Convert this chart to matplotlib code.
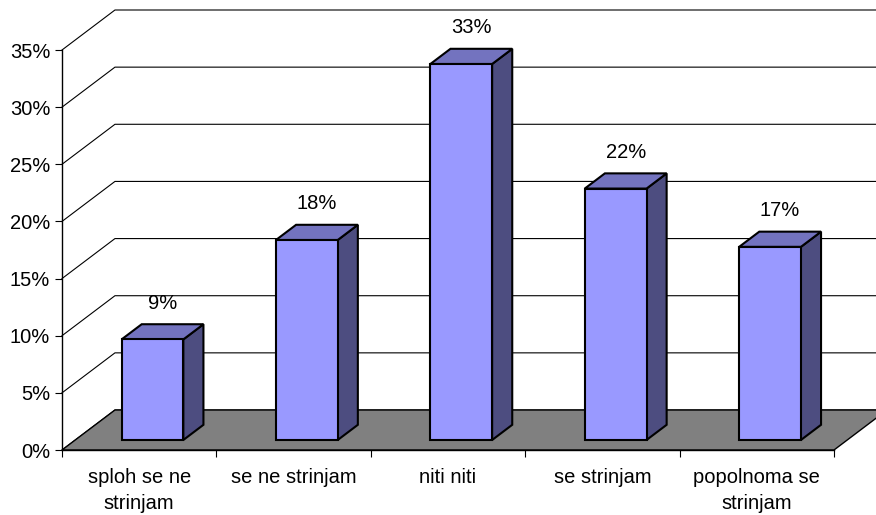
import matplotlib.pyplot as plt
from matplotlib.patches import Polygon
from matplotlib.ticker import FuncFormatter

plt.rcParams['font.family'] = ['Liberation Sans', 'DejaVu Sans']

# ===== data =====
categories = ['sploh se ne\nstrinjam', 'se ne strinjam', 'niti niti',
              'se strinjam', 'popolnoma se\nstrinjam']
values = [8.8, 17.5, 32.9, 22.0, 16.9]
value_labels = ['9%', '18%', '33%', '22%', '17%']
y_ticks = [0, 5, 10, 15, 20, 25, 30, 35]

# ===== 3D look (depth of the floor/walls, bar placement in depth) =====
DX = 0.343    # full depth, in category units
DY = 3.5      # full depth, in %
BAR_W = 0.40
BAR_Z0 = 0.25  # bar front at this fraction of depth
BAR_D = 0.38   # bar depth as fraction of full depth

C_FRONT = '#9999FF'
C_TOP = '#7373BF'
C_SIDE = '#4D4D80'
C_FLOOR = '#808080'
FS = 14.5

fig = plt.figure(figsize=(8.76, 5.15), dpi=100)
ax = fig.add_axes([62 / 876, 65 / 515, 772 / 876, 400 / 515])
ax.set_xlim(-0.5, len(values) - 0.5)
ax.set_ylim(0, 35)

# back wall gridlines + left wall diagonals
for y in y_ticks:
    ax.plot([-0.5, -0.5 + DX, len(values) - 0.5 + DX], [y, y + DY, y + DY],
            color='black', lw=0.8, clip_on=False, zorder=1)

# floor
floor = [(-0.5, 0), (-0.5 + DX, DY), (len(values) - 0.5 + DX, DY), (len(values) - 0.5, 0)]
ax.add_patch(Polygon(floor, closed=True, fc=C_FLOOR, ec='black', lw=1,
                     clip_on=False, zorder=2))

# bars
for i, (v, lab) in enumerate(zip(values, value_labels)):
    x0 = i - BAR_W / 2 + BAR_Z0 * DX
    x1 = x0 + BAR_W
    y0 = BAR_Z0 * DY
    y1 = v + y0
    ddx = BAR_D * DX
    ddy = BAR_D * DY
    front = [(x0, y0), (x1, y0), (x1, y1), (x0, y1)]
    top = [(x0, y1), (x1, y1), (x1 + ddx, y1 + ddy), (x0 + ddx, y1 + ddy)]
    side = [(x1, y0), (x1 + ddx, y0 + ddy), (x1 + ddx, y1 + ddy), (x1, y1)]
    for pts, c in ((side, C_SIDE), (top, C_TOP), (front, C_FRONT)):
        ax.add_patch(Polygon(pts, closed=True, fc=c, ec='black', lw=1.5,
                             joinstyle='miter', clip_on=False, zorder=3))
    ax.annotate(lab, (x0 + BAR_W / 2 + ddx / 2, y1), xytext=(0, 26),
                textcoords='offset points', ha='center', va='center',
                fontsize=FS, zorder=4)

# axes
for s in ('top', 'right'):
    ax.spines[s].set_visible(False)
ax.spines['left'].set_linewidth(1)
ax.spines['bottom'].set_linewidth(1)
ax.spines['left'].set_zorder(5)
ax.patch.set_visible(False)

ax.set_yticks(y_ticks)
ax.yaxis.set_major_formatter(FuncFormatter(lambda v, p: f'{int(v)}%'))
ax.tick_params(axis='y', direction='out', length=5, width=0.8, pad=3.5, labelsize=FS)

ax.set_xticks([i - 0.5 for i in range(len(values) + 1)])
ax.set_xticklabels([])
ax.set_xticks(range(len(values)), minor=True)
ax.set_xticklabels(categories, minor=True, fontsize=FS, linespacing=1.45)
ax.tick_params(axis='x', which='major', direction='out', length=5, width=0.8)
ax.tick_params(axis='x', which='minor', length=0, pad=13)

fig.savefig('out.png', dpi=100)
